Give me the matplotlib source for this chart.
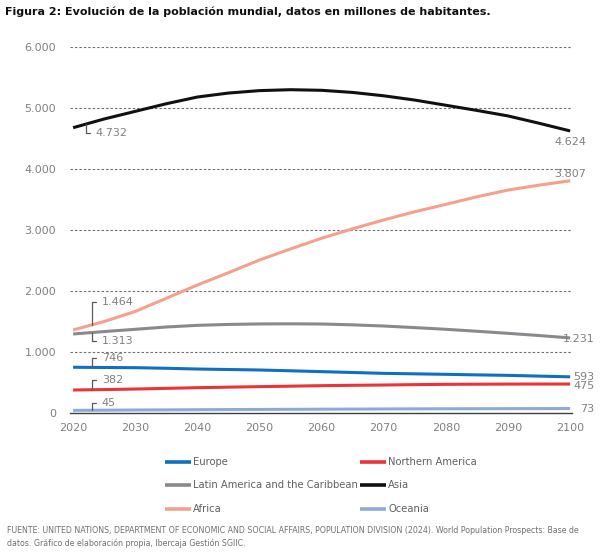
import matplotlib
matplotlib.use("Agg")
import matplotlib.pyplot as plt
from matplotlib.ticker import FuncFormatter

years = [2020, 2025, 2030, 2035, 2040, 2045, 2050, 2055, 2060, 2065, 2070, 2075, 2080, 2085, 2090, 2095, 2100]

europe = [750, 746, 743, 733, 721, 713, 705, 692, 678, 664, 650, 642, 634, 625, 617, 605, 593]
northern_america = [377, 384, 393, 404, 415, 424, 432, 440, 448, 454, 459, 465, 470, 472, 474, 475, 475]
latin_america = [1295, 1335, 1372, 1410, 1437, 1452, 1460, 1462, 1459, 1445, 1426, 1400, 1372, 1340, 1306, 1270, 1231]
asia = [4677, 4820, 4945, 5070, 5180, 5245, 5285, 5300, 5290, 5255, 5200, 5130, 5045, 4960, 4870, 4750, 4624]
africa = [1361, 1500, 1665, 1880, 2098, 2300, 2508, 2690, 2865, 3020, 3165, 3300, 3420, 3545, 3655, 3735, 3807]
oceania = [43, 46, 49, 51, 54, 56, 58, 60, 62, 64, 66, 68, 69, 70, 71, 72, 73]

series_names = ["Europe", "Northern America", "Latin America and the Caribbean", "Asia", "Africa", "Oceania"]
series_values = [europe, northern_america, latin_america, asia, africa, oceania]
colors = ["#0f6fc0", "#ea3438", "#8a8a8e", "#111111", "#f5a08c", "#8eaadb"]

start_labels = ["746", "382", "1.313", "4.732", "1.464", "45"]
end_labels = ["593", "475", "1.231", "4.624", "3.807", "73"]

y_ticks = [0, 1000, 2000, 3000, 4000, 5000, 6000]
x_ticks = [2020, 2030, 2040, 2050, 2060, 2070, 2080, 2090, 2100]

title = "Figura 2: Evolución de la población mundial, datos en millones de habitantes."
source = ("FUENTE: UNITED NATIONS, DEPARTMENT OF ECONOMIC AND SOCIAL AFFAIRS, POPULATION DIVISION (2024). World Population Prospects: Base de\n"
          "datos. Gráfico de elaboración propia, Ibercaja Gestión SGIIC.")

gray_txt = "#808080"

fig = plt.figure(figsize=(6.04, 5.56), dpi=100)
ax = fig.add_axes([70/604, 1-413/556, 502/604, 366/556])

ax.set_xlim(2019.5, 2100.3)
ax.set_ylim(0, 6000)

for yv in y_ticks[1:]:
    ax.axhline(yv, color="#6e6e6e", lw=0.8, ls=(0, (2.2, 1.8)), zorder=1)

lines = []
for name, vals, c in zip(series_names, series_values, colors):
    ln, = ax.plot(years, vals, color=c, lw=2.2, label=name, zorder=3, solid_capstyle="butt", clip_on=False)
    lines.append(ln)

for s in ["top", "right", "left"]:
    ax.spines[s].set_visible(False)
ax.spines["bottom"].set_color("#404040")
ax.spines["bottom"].set_linewidth(1.0)
ax.spines["bottom"].set_zorder(2)

ax.set_yticks(y_ticks)
ax.yaxis.set_major_formatter(FuncFormatter(lambda v, p: f"{int(v):,}".replace(",", ".")))
ax.set_xticks(x_ticks)
ax.tick_params(axis="both", length=0, labelsize=8, labelcolor=gray_txt)
ax.tick_params(axis="y", pad=10)
ax.tick_params(axis="x", pad=7)

def val_at(vals, yr):
    for i in range(len(years) - 1):
        if years[i] <= yr <= years[i+1]:
            t = (yr - years[i]) / (years[i+1] - years[i])
            return vals[i] + t*(vals[i+1] - vals[i])
    return vals[-1]

start_year = [2023, 2023, 2023, 2022, 2023, 2023]
start_off = [(10, 9), (10, 10), (10, -8), (10, -9), (10, 23), (10, 7)]
for vals, lab, yr, off in zip(series_values, start_labels, start_year, start_off):
    ax.annotate(lab, xy=(yr, val_at(vals, yr)), xytext=off, textcoords="offset pixels",
                ha="left", va="center", fontsize=8, color=gray_txt,
                arrowprops=dict(arrowstyle="-", color="#5a5a5a", lw=0.9,
                                connectionstyle="angle,angleA=0,angleB=90,rad=0",
                                shrinkA=2, shrinkB=0), zorder=5)

end_off = [(3, 0, "left"), (3, -2, "left"), (9, -1, "center"), (0, -11, "center"), (0, 7, "center"), (10, 0, "left")]
for vals, lab, (dx, dy, ha) in zip(series_values, end_labels, end_off):
    ax.annotate(lab, xy=(years[-1], vals[-1]), xytext=(dx, dy), textcoords="offset pixels",
                ha=ha, va="center", fontsize=8, color=gray_txt, zorder=5, annotation_clip=False)

order = [0, 2, 4, 1, 3, 5]
leg = fig.legend([lines[i] for i in order], [series_names[i] for i in order],
                 loc="upper left", bbox_to_anchor=(165/604, 1-457/556), ncol=2,
                 frameon=False, fontsize=7.2, handlelength=2.6, handletextpad=0.2,
                 columnspacing=0.25, labelspacing=1.35, borderpad=0, borderaxespad=0)
for t in leg.get_texts():
    t.set_color("#606060")
for h in leg.legend_handles:
    h.set_linewidth(2.6)

fig.text(5/604, 1-12/556, title, fontsize=8, fontweight="bold", color="#111111", ha="left", va="center")
fig.text(7/604, 1-537/556, source, fontsize=5.65, color="#707070", ha="left", va="center", linespacing=1.45)

fig.savefig("out.png", dpi=100)
